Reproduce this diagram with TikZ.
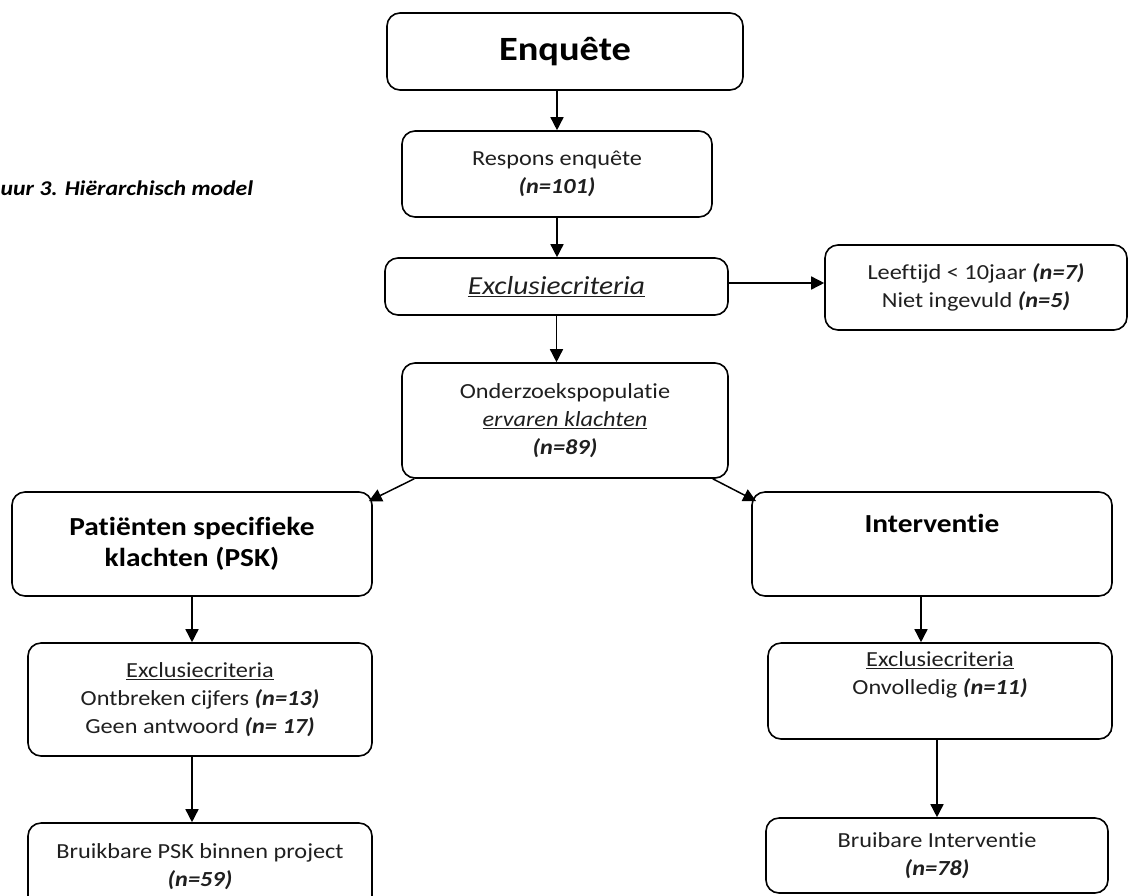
\documentclass[tikz,border=0pt]{standalone}
\usepackage{fontspec}
\setmainfont{Carlito}[FakeStretch=1.13,Ligatures=NoCommon]
\usetikzlibrary{arrows.meta}
\begin{document}
\begin{tikzpicture}[x=1pt,y=-1pt,
  box/.style={draw=black, line width=1.6pt, rounded corners=13pt, align=center, inner sep=0pt, text=black!88, font=\fontsize{21.5}{28}\selectfont},
  head/.style={box, text=black, font=\fontsize{26}{31}\selectfont\bfseries},
  arr/.style={line width=1.5pt, -{Triangle[width=13pt,length=13pt]}}]
\clip (0,0) rectangle (1129,895);
\node [anchor=base west, font=\fontsize{21}{24}\selectfont\bfseries\itshape] (titel) at (-3,195) {uur 3. Hiërarchisch model};
\node [head, font=\fontsize{34}{40}\selectfont\bfseries, minimum width=356pt, minimum height=77pt] (enq) at (565,51.5) {Enquête};
\node [box, minimum width=310pt, minimum height=86pt] (resp) at (557,174) {Respons enquête\\{\bfseries\itshape (n=101)}};
\node [box, font=\fontsize{26}{30}\selectfont\itshape, minimum width=343pt, minimum height=57pt] (excl) at (556.5,286.5) {\underline{Exclusiecriteria}};
\node [box, minimum width=302pt, minimum height=85pt] (leef) at (976,287.5) {Leeftijd < 10jaar {\bfseries\itshape (n=7)}\\Niet ingevuld {\bfseries\itshape (n=5)}};
\node [box, minimum width=326pt, minimum height=115pt] (onderz) at (565,420.5) {Onderzoekspopulatie\\{\itshape\underline{ervaren klachten}}\\{\bfseries\itshape (n=89)}};
\node [head, minimum width=360pt, minimum height=104pt] (psk) at (192,544) {Patiënten specifieke\\klachten (PSK)};
\node [head, minimum width=360pt, minimum height=104pt] (inter) at (932,544) {Interventie\\\strut};
\node [box, minimum width=344pt, minimum height=113pt] (exl) at (200,699.5) {\underline{Exclusiecriteria}\\Ontbreken cijfers {\bfseries\itshape (n=13)}\\Geen antwoord {\bfseries\itshape (n= 17)}};
\node [box, minimum width=344pt, minimum height=96pt] (exr) at (940,691) {\underline{Exclusiecriteria}\\Onvolledig {\bfseries\itshape (n=11)}\\\strut};
\node [box, minimum width=344pt, minimum height=87pt] (brl) at (200,866.5) {Bruikbare PSK binnen project\\{\bfseries\itshape (n=59)}};
\node [box, minimum width=342pt, minimum height=75pt] (brr) at (937,855.5) {Bruibare Interventie\\{\bfseries\itshape (n=78)}};
\draw [arr] (enq.south -| resp.north) -- (resp.north);
\draw [arr] (resp.south) -- (resp.south |- excl.north);
\draw [arr] ([yshift=3.5pt]excl.east) -- ([yshift=3.5pt]excl.east -| leef.west);
\draw [arr] (excl.south) -- (excl.south |- onderz.north);
\draw [arr] ([xshift=13pt]onderz.south west) -- ([xshift=-4pt,yshift=-10pt]psk.north east);
\draw [arr] ([xshift=-16pt]onderz.south east) -- ([xshift=5pt,yshift=-10pt]inter.north west);
\draw [arr] (psk.south) -- (psk.south |- exl.north);
\draw [arr] (exl.south -| psk) -- (brl.north -| psk);
\draw [arr] ([xshift=-11pt]inter.south) -- ([xshift=-11pt]inter.south |- exr.north);
\draw [arr] (exr.south -| brr.north) -- (brr.north);
\end{tikzpicture}
\end{document}
